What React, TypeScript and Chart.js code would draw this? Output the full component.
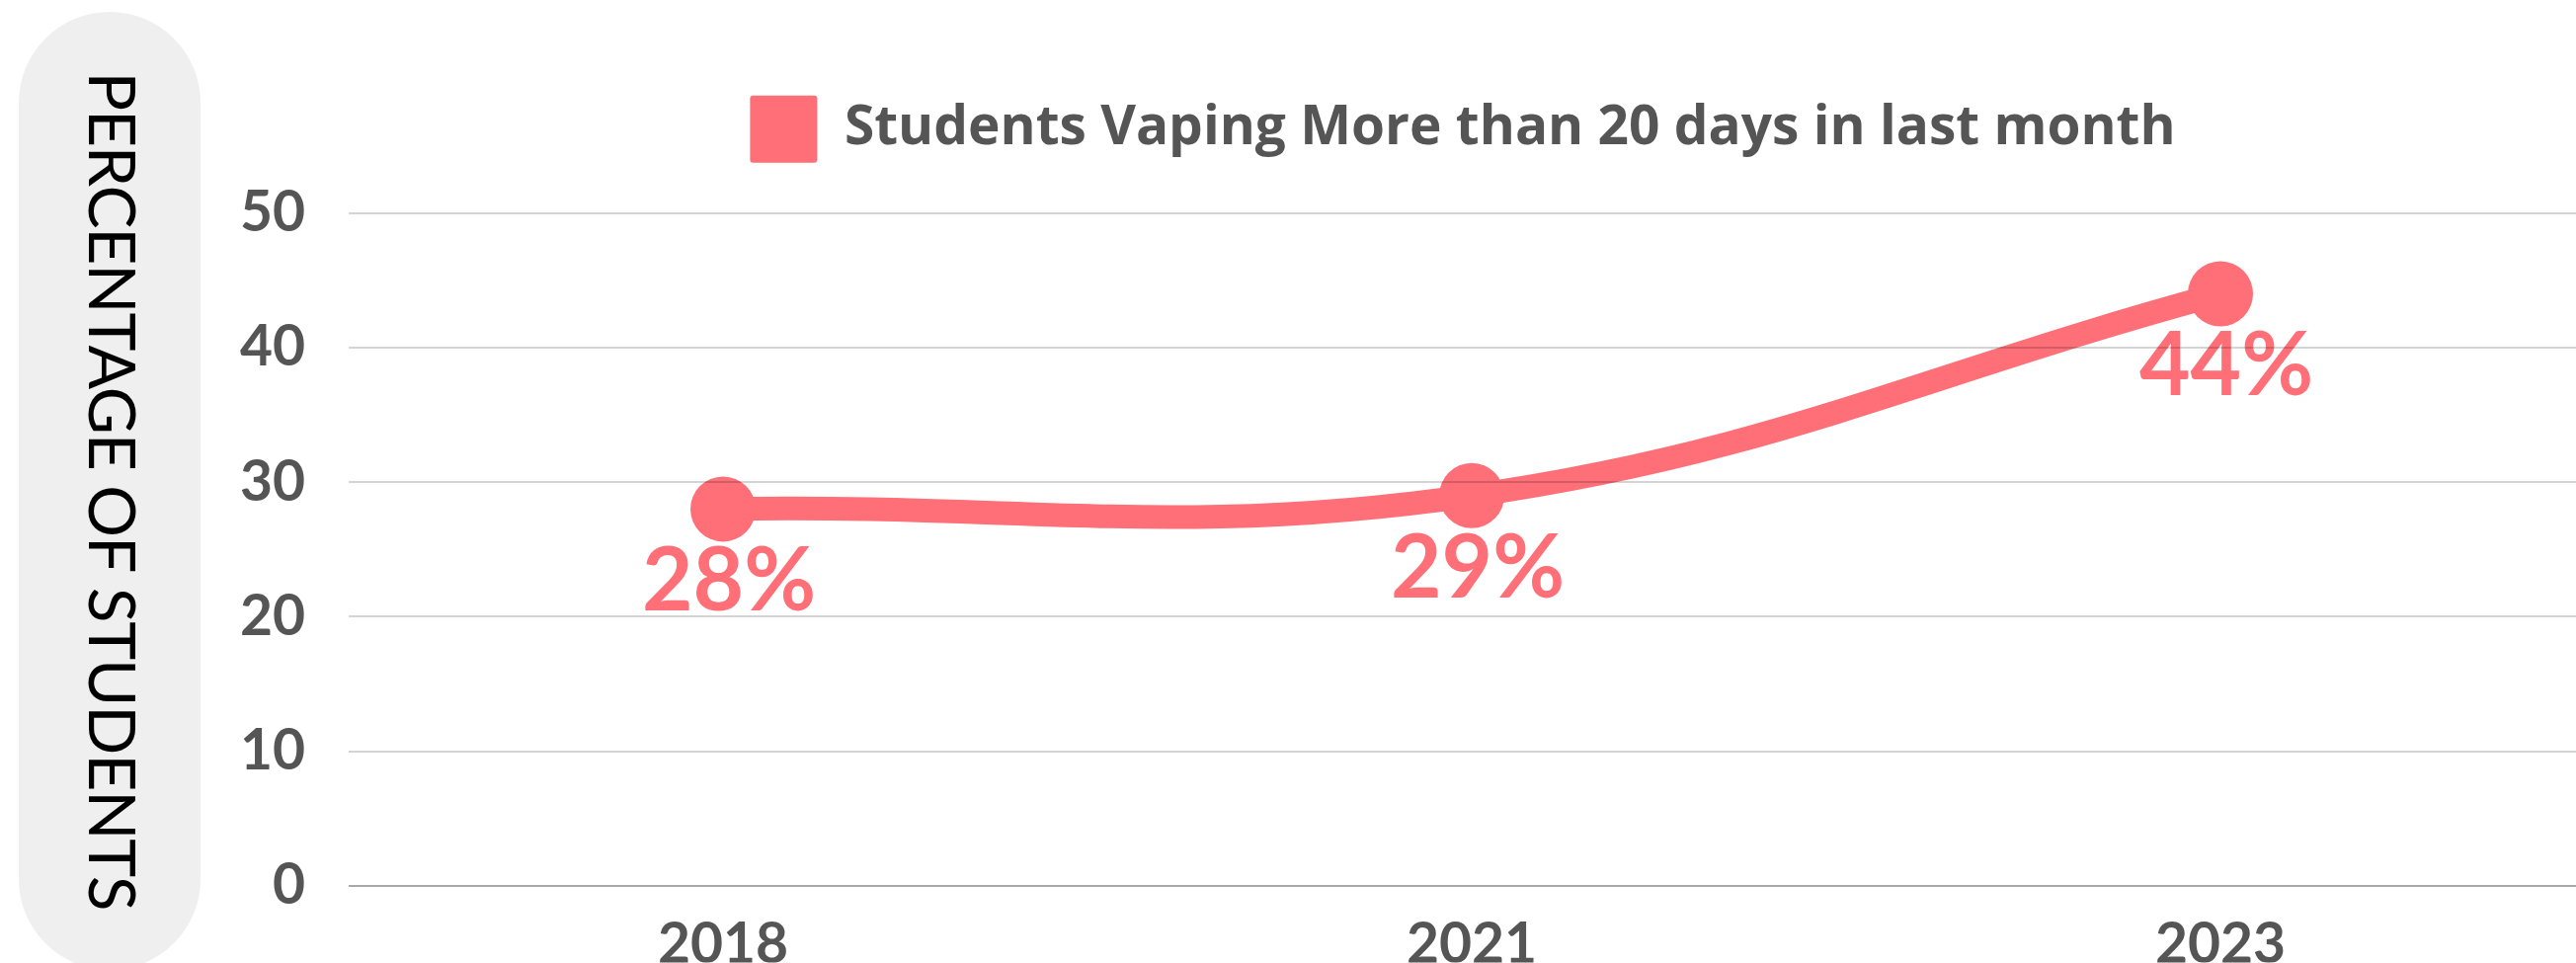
import React, { useEffect, useRef } from 'react';
import { Chart, registerables } from 'chart.js';

Chart.register(...registerables);

const categories = ['2018', '2021', '2023'];
const studentsVaping = [28, 29, 44];
const seriesLabel = 'Students Vaping More than 20 days in last month';
const yTitle = 'PERCENTAGE OF STUDENTS';
const yMin = 0;
const yMax = 50;
const yStep = 10;

const PINK = '#ff6f77';
const CANVAS_W = 2962;
const CANVAS_H = 975;

export default function App() {
  const ref = useRef<HTMLCanvasElement>(null);

  useEffect(() => {
    const canvas = ref.current;
    if (!canvas) return;

    const pillPlugin = {
      id: 'pillTitle',
      beforeDraw(chart: any) {
        const ctx = chart.ctx as CanvasRenderingContext2D;
        ctx.save();
        const x0 = 19, x1 = 203, y0 = 12, y1 = 982, r = 92;
        ctx.fillStyle = '#efefef';
        ctx.beginPath();
        (ctx as any).roundRect(x0, y0, x1 - x0, y1 - y0, r);
        ctx.fill();
        ctx.translate(111, 497);
        ctx.rotate(Math.PI / 2);
        ctx.font = '400 66px Lato';
        ctx.fillStyle = '#000';
        ctx.textAlign = 'center';
        ctx.textBaseline = 'middle';
        const w = ctx.measureText(yTitle).width;
        const n = yTitle.length - 1;
        (ctx as any).letterSpacing = ((850 - w) / n).toFixed(2) + 'px';
        ctx.fillText(yTitle, 0, 0);
        ctx.restore();
      },
    };

    const valueLabels = {
      id: 'valueLabels',
      afterDatasetsDraw(chart: any) {
        const ctx = chart.ctx as CanvasRenderingContext2D;
        const meta = chart.getDatasetMeta(0);
        ctx.save();
        ctx.font = '700 89px Lato';
        ctx.fillStyle = PINK;
        ctx.textAlign = 'center';
        ctx.textBaseline = 'alphabetic';
        meta.data.forEach((pt: any, i: number) => {
          ctx.fillText(`${studentsVaping[i]}%`, pt.x + 6, pt.y + 103);
        });
        ctx.restore();
      },
    };

    const tickFont = { family: 'Lato', size: 57, weight: '700' as any };

    const chart = new Chart(canvas, {
      type: 'line',
      data: {
        labels: categories,
        datasets: [
          {
            label: seriesLabel,
            data: studentsVaping,
            borderColor: PINK,
            backgroundColor: PINK,
            borderWidth: 24,
            pointRadius: 33,
            pointHoverRadius: 33,
            pointBackgroundColor: PINK,
            pointBorderWidth: 0,
            tension: 0.4,
            fill: false,
          },
        ],
      },
      options: {
        responsive: false,
        animation: false,
        devicePixelRatio: 1,
        layout: { padding: { top: 56.7, left: 0, right: 0, bottom: 0 } },
        plugins: {
          legend: {
            position: 'top',
            align: 'center',
            labels: {
              boxWidth: 68,
              boxHeight: 68,
              padding: 40,
              color: '#555555',
              font: { family: 'Open Sans', size: 55, weight: '700' as any },
              useBorderRadius: true,
              borderRadius: 3,
              generateLabels: () => [
                {
                  text: seriesLabel,
                  fillStyle: PINK,
                  strokeStyle: PINK,
                  lineWidth: 0,
                  hidden: false,
                  datasetIndex: 0,
                  borderRadius: 3,
                  fontColor: '#555555',
                } as any,
              ],
            },
          },
          tooltip: { enabled: false },
          title: { display: false },
        },
        scales: {
          x: {
            offset: true,
            grid: { display: false },
            border: { display: false },
            ticks: { color: '#555555', font: tickFont, padding: 18 },
            afterFit: (s: any) => {
              s.height = 77.7;
            },
          },
          xt: {
            type: 'category',
            position: 'top',
            grid: { display: false },
            border: { display: false },
            ticks: { display: false },
            afterFit: (s: any) => {
              s.height = 41;
            },
          },
          y: {
            min: yMin,
            max: yMax,
            ticks: { stepSize: yStep, color: '#555555', font: tickFont, padding: 44 },
            grid: {
              color: (c: any) => (c.tick && c.tick.value === 0 ? '#a8a8a8' : 'rgba(0,0,0,0.17)'),
              lineWidth: 2,
              drawTicks: false,
              z: 1,
            },
            border: { display: false },
            afterFit: (s: any) => {
              s.width = 353;
            },
          },
          yr: {
            type: 'linear',
            position: 'right',
            grid: { display: false },
            border: { display: false },
            ticks: { display: false },
            afterFit: (s: any) => {
              s.width = 335;
            },
          },
        },
      },
      plugins: [pillPlugin, valueLabels],
    } as any);

    return () => chart.destroy();
  }, []);

  return (
    <div
      style={{
        position: 'fixed',
        left: 0,
        top: 0,
        width: 2608,
        height: 975,
        overflow: 'hidden',
        background: '#fff',
      }}
    >
      <canvas ref={ref} width={CANVAS_W} height={CANVAS_H} style={{ display: 'block' }} />
    </div>
  );
}
